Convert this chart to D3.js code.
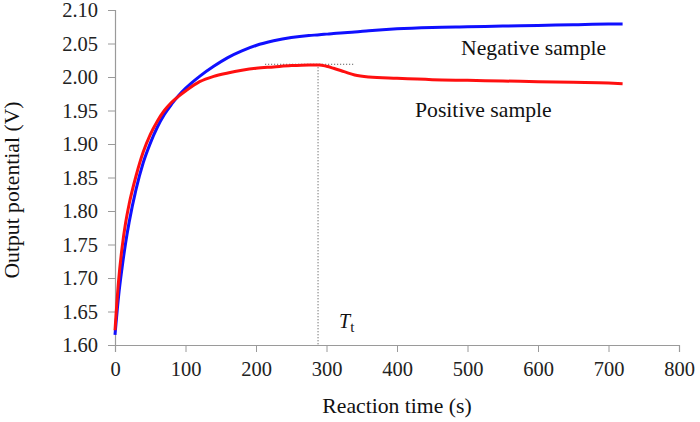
<!DOCTYPE html>
<html><head><meta charset="utf-8">
<script src="https://cdn.jsdelivr.net/npm/d3@7"></script>
<style>body{margin:0;background:#fff}svg{display:block}</style>
</head><body><svg id="c" width="700" height="422"></svg>
<script>
const times    = [0,5,10,15,20,30,40,50,60,70,80,90,100,120,140,160,180,200,225,250,275,290,300,310,325,340,360,400,450,500,550,600,650,700,720];
const negative = [1.615,1.672,1.715,1.752,1.783,1.833,1.872,1.901,1.925,1.944,1.959,1.972,1.983,2.001,2.016,2.029,2.039,2.047,2.054,2.059,2.062,2.063,2.064,2.065,2.066,2.067,2.069,2.072,2.074,2.075,2.076,2.077,2.078,2.079,2.079];
const positive = [1.622,1.695,1.745,1.782,1.810,1.853,1.888,1.914,1.934,1.950,1.962,1.971,1.979,1.993,2.001,2.006,2.010,2.013,2.015,2.017,2.018,2.018,2.016,2.013,2.008,2.003,2.000,1.998,1.996,1.995,1.994,1.993,1.992,1.991,1.990];
const xTicks = [0,100,200,300,400,500,600,700,800];
const yTicks = [1.60,1.65,1.70,1.75,1.80,1.85,1.90,1.95,2.00,2.05,2.10];
const tT = 288, plateau = 2.019, plateauFrom = 213, plateauTo = 340;

const FONT = "'Liberation Serif', Tinos, 'Times New Roman', 'DejaVu Serif', serif";
const svg = d3.select("#c");
const x = d3.scaleLinear().domain([0,800]).range([115,679]);
const y = d3.scaleLinear().domain([1.60,2.10]).range([345,10]);

const gx = svg.append("g").attr("transform","translate(0,345)")
  .call(d3.axisBottom(x).tickValues(xTicks).tickFormat(d3.format("d")).tickSize(7).tickPadding(9));
const gy = svg.append("g").attr("transform","translate(115,0)")
  .call(d3.axisLeft(y).tickValues(yTicks).tickFormat(d3.format(".2f")).tickSize(7).tickPadding(10));
[gx,gy].forEach(g=>{
  g.attr("font-family",FONT).attr("font-size",20.5);
  g.selectAll("path").attr("stroke","#9a9a9a").attr("stroke-width",1.2);
  g.selectAll("line").attr("stroke","#9a9a9a");
  g.selectAll("text").attr("fill","#222");
});

// dotted annotation
svg.append("line").attr("x1",x(plateauFrom)).attr("x2",x(plateauTo)).attr("y1",y(plateau)).attr("y2",y(plateau))
  .attr("stroke","#444").attr("stroke-width",1).attr("stroke-dasharray","1,2");
svg.append("line").attr("x1",x(tT)).attr("x2",x(tT)).attr("y1",y(plateau)).attr("y2",y(1.60))
  .attr("stroke","#444").attr("stroke-width",1).attr("stroke-dasharray","1,2");

const line = d3.line().x((d,i)=>x(times[i])).y(d=>y(d)).curve(d3.curveMonotoneX);
svg.append("path").attr("d",line(negative)).attr("fill","none").attr("stroke","#1010ff").attr("stroke-width",3);
svg.append("path").attr("d",line(positive)).attr("fill","none").attr("stroke","#ff1010").attr("stroke-width",3);

const T = (xx,yy,s)=>svg.append("text").attr("x",xx).attr("y",yy).attr("font-family",FONT).attr("font-size",s).attr("fill","#111");
T(461,55,21.7).text("Negative sample");
T(415,117,21.7).text("Positive sample");
const tt = T(339,328,20);
tt.append("tspan").attr("font-style","italic").text("T");
tt.append("tspan").attr("dy",4).attr("font-size",15).text("t");

T(397,413,21.7).attr("text-anchor","middle").text("Reaction time (s)");
T(0,0,21.7).attr("transform","translate(19,190) rotate(-90)").attr("text-anchor","middle").text("Output potential (V)");
</script></body></html>
